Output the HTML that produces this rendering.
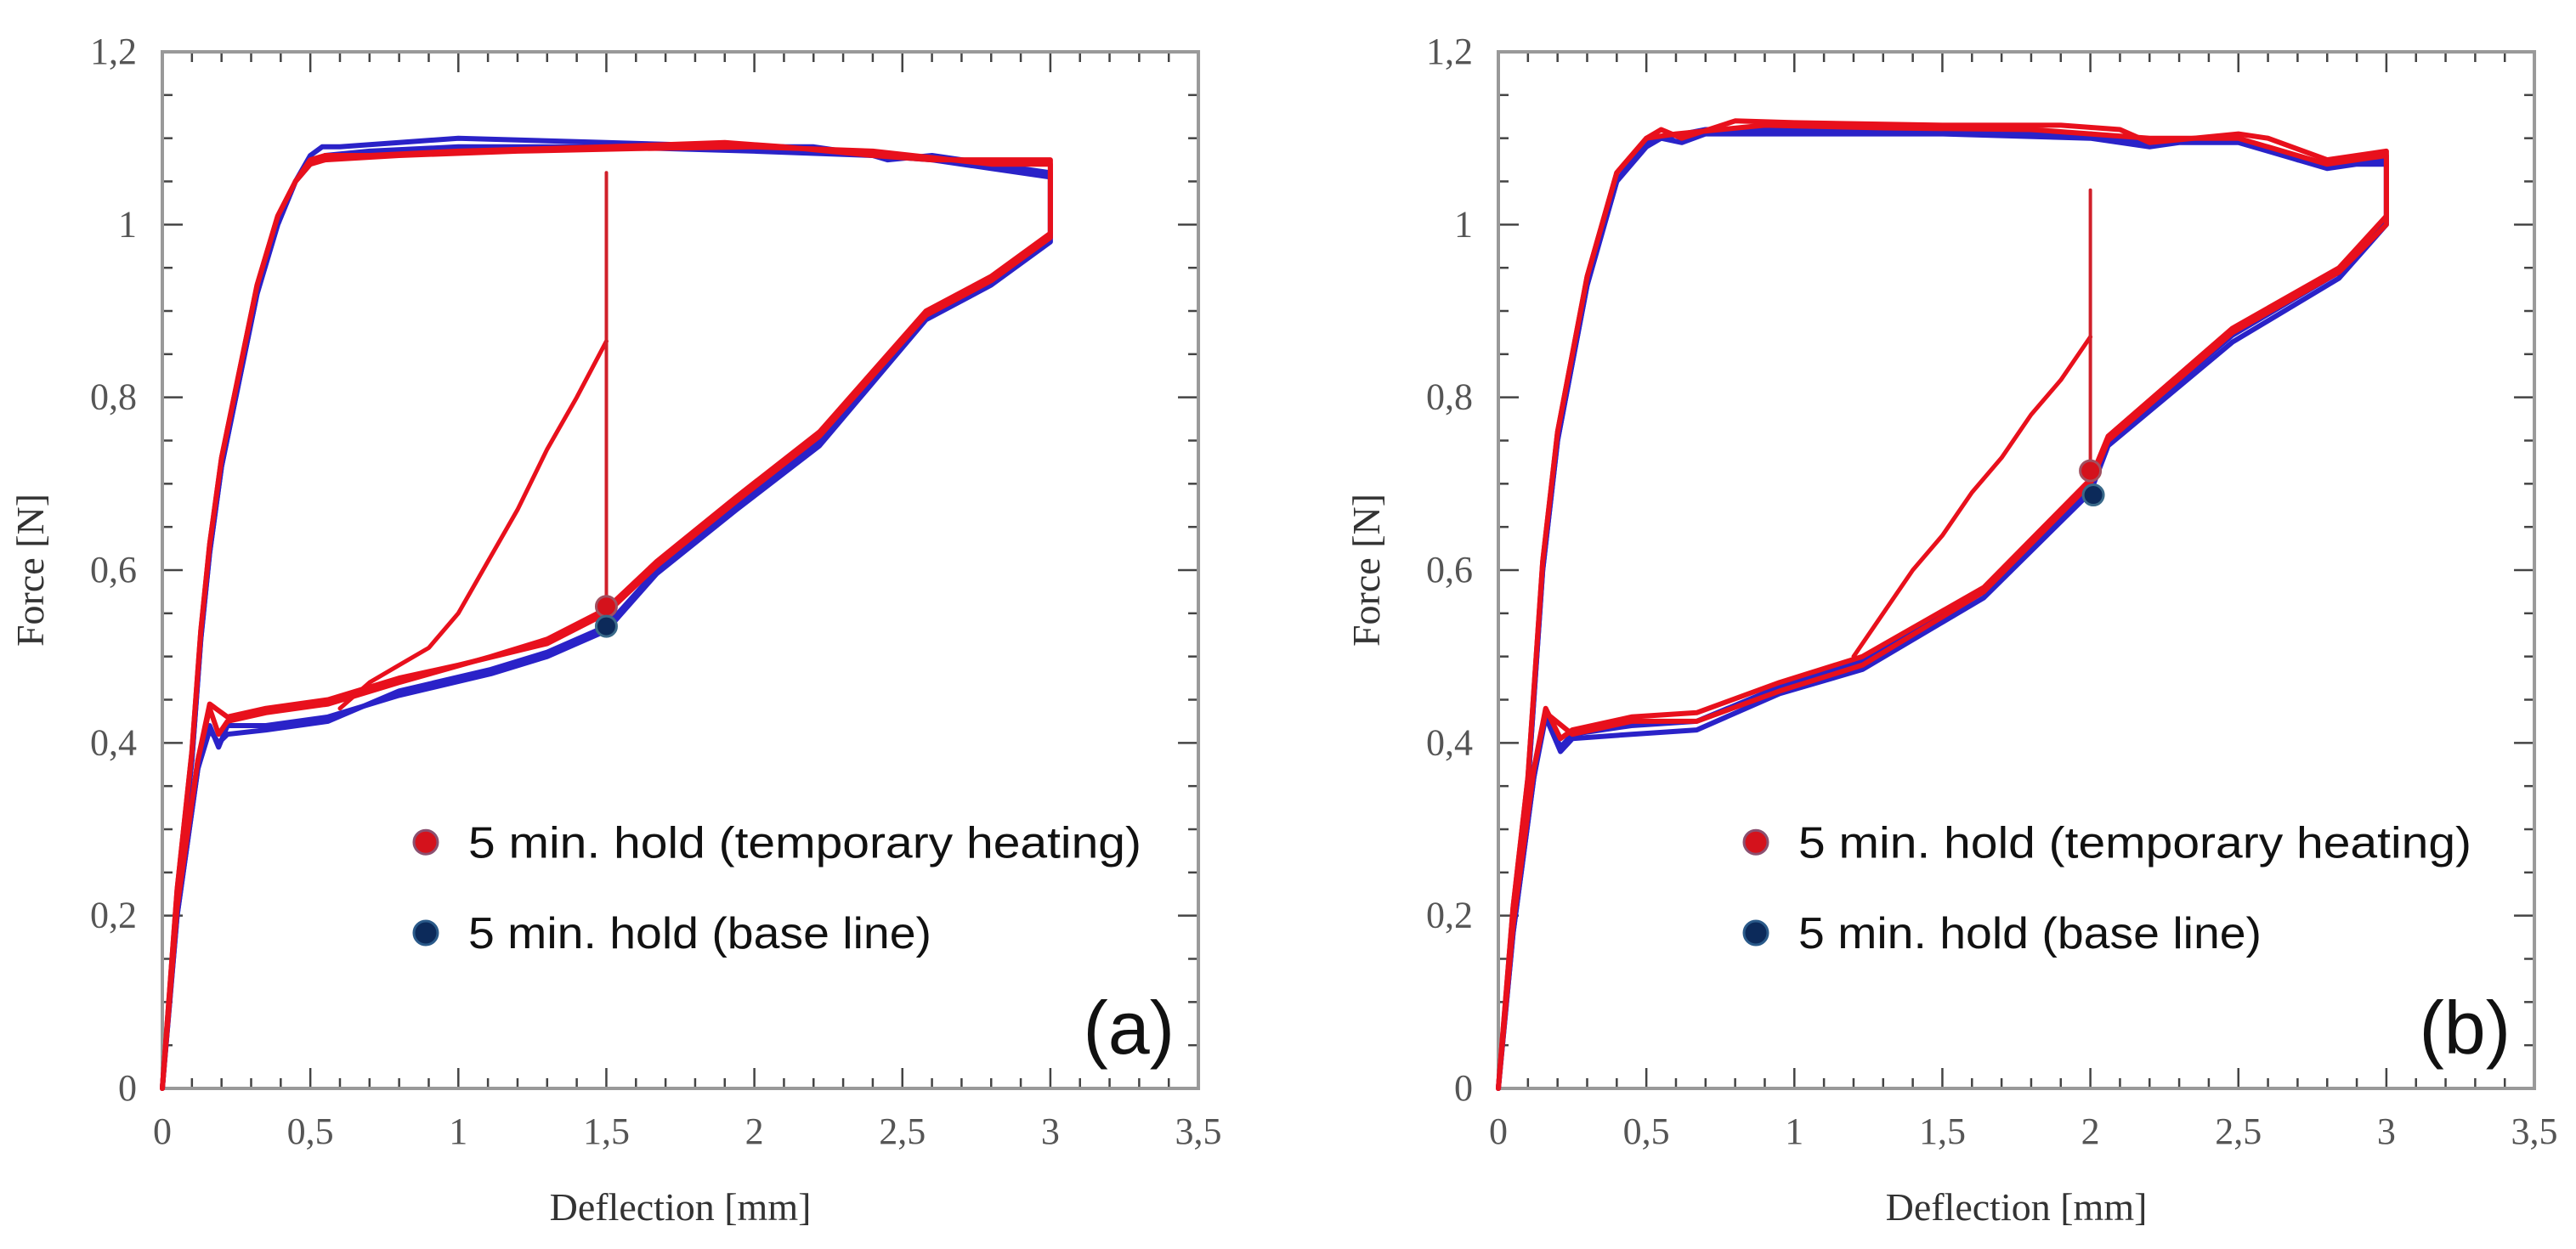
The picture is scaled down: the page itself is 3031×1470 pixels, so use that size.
<!DOCTYPE html>
<html><head><meta charset="utf-8"><style>
html,body{margin:0;padding:0;background:#fff;}
svg{display:block;}
</style></head><body>
<svg id="fig" width="3031" height="1470" viewBox="0 0 3031 1470" xmlns="http://www.w3.org/2000/svg"></svg>
<script>
// ---------- data (deflection mm, force N) ----------
const xTicks = [0,0.5,1,1.5,2,2.5,3,3.5];
const xTickLabels = ["0","0,5","1","1,5","2","2,5","3","3,5"];
const yTicks = [0,0.2,0.4,0.6,0.8,1,1.2];
const yTickLabels = ["0","0,2","0,4","0,6","0,8","1","1,2"];

// Panel (a)
const aBlueX1 = [0,0.05,0.1,0.13,0.16,0.2,0.26,0.32,0.39,0.45,0.5,0.54,0.6,0.8,1.0,1.5,2.0,2.2,2.4,2.45,2.6,2.8,3.0,3.0,2.8,2.58,2.22,1.94,1.67,1.5,1.3,1.11,0.8,0.56,0.35,0.22,0.19,0.16,0.12,0.05,0];
const aBlueY1 = [0,0.22,0.38,0.52,0.62,0.72,0.82,0.92,1.0,1.05,1.08,1.09,1.09,1.095,1.1,1.095,1.09,1.09,1.08,1.075,1.08,1.07,1.06,0.98,0.93,0.89,0.744,0.67,0.596,0.53,0.5,0.48,0.455,0.43,0.42,0.42,0.395,0.42,0.37,0.2,0];
const aBlueX2 = [0,0.05,0.1,0.13,0.16,0.2,0.26,0.32,0.39,0.45,0.5,0.55,0.7,1.0,1.5,2.0,2.4,2.6,2.8,3.0,3.0,2.8,2.58,2.22,1.94,1.67,1.5,1.3,1.11,0.8,0.56,0.35,0.22,0.19,0.16,0.12,0.05,0];
const aBlueY2 = [0,0.22,0.38,0.52,0.62,0.72,0.82,0.92,1.0,1.05,1.07,1.08,1.085,1.09,1.09,1.085,1.08,1.075,1.065,1.055,0.985,0.935,0.895,0.75,0.675,0.6,0.535,0.505,0.485,0.46,0.425,0.415,0.41,0.4,0.415,0.37,0.2,0];
const aRedX1 = [0,0.05,0.1,0.13,0.16,0.2,0.26,0.32,0.39,0.45,0.5,0.55,0.7,1.0,1.5,1.9,2.1,2.4,2.6,2.8,3.0,3.0,2.8,2.58,2.22,1.94,1.67,1.5,1.3,1.11,0.8,0.56,0.35,0.22,0.19,0.16,0.12,0.05,0];
const aRedY1 = [0,0.23,0.39,0.53,0.63,0.73,0.83,0.93,1.01,1.05,1.075,1.08,1.08,1.085,1.09,1.095,1.09,1.08,1.075,1.075,1.075,0.99,0.94,0.9,0.76,0.685,0.61,0.555,0.52,0.5,0.47,0.445,0.435,0.425,0.41,0.44,0.38,0.21,0];
const aRedX2 = [0,0.05,0.1,0.13,0.16,0.2,0.26,0.32,0.39,0.45,0.5,0.55,0.8,1.2,1.6,2.0,2.4,2.8,3.0,3.0,2.8,2.58,2.22,1.94,1.67,1.5,1.3,1.0,0.8,0.56,0.35,0.22,0.16,0.12,0.05,0];
const aRedY2 = [0,0.23,0.39,0.53,0.63,0.73,0.83,0.93,1.01,1.05,1.07,1.075,1.08,1.085,1.088,1.09,1.085,1.07,1.07,0.985,0.935,0.895,0.755,0.68,0.605,0.55,0.515,0.49,0.475,0.45,0.44,0.43,0.445,0.38,0.21,0];
const aHoldX = [1.5,1.5];
const aHoldY = [1.06,0.56];
const aReloadX = [0.6,0.7,0.8,0.9,1.0,1.1,1.2,1.3,1.4,1.5];
const aReloadY = [0.44,0.47,0.49,0.51,0.55,0.61,0.67,0.74,0.8,0.865];
const aMarkRed = [1.5,0.558];
const aMarkBlue = [1.5,0.535];

// Panel (b)
const bBlueX1 = [0,0.05,0.1,0.15,0.2,0.3,0.4,0.5,0.55,0.62,0.7,1.0,1.5,2.0,2.2,2.3,2.5,2.6,2.8,2.9,3.0,3.0,2.84,2.48,2.06,2.0,1.64,1.23,0.95,0.67,0.45,0.25,0.21,0.16,0.12,0.05,0];
const bBlueY1 = [0,0.2,0.35,0.6,0.75,0.93,1.05,1.095,1.1,1.095,1.105,1.105,1.105,1.1,1.09,1.095,1.095,1.085,1.065,1.07,1.07,1.0,0.938,0.864,0.744,0.69,0.568,0.485,0.457,0.415,0.41,0.405,0.39,0.43,0.36,0.18,0];
const bBlueX2 = [0,0.05,0.1,0.15,0.2,0.3,0.4,0.5,0.55,0.7,1.0,1.5,2.0,2.2,2.5,2.7,2.8,3.0,3.0,2.84,2.48,2.06,2.0,1.64,1.23,0.95,0.67,0.45,0.25,0.21,0.16,0.12,0.05,0];
const bBlueY2 = [0,0.2,0.35,0.6,0.75,0.93,1.05,1.09,1.1,1.11,1.11,1.108,1.105,1.095,1.1,1.075,1.07,1.075,1.005,0.945,0.872,0.75,0.695,0.575,0.495,0.465,0.425,0.42,0.41,0.395,0.435,0.36,0.18,0];
const bRedX1 = [0,0.05,0.1,0.15,0.2,0.3,0.4,0.5,0.55,0.62,0.8,1.0,1.5,1.9,2.1,2.2,2.5,2.6,2.8,2.9,3.0,3.0,2.84,2.48,2.06,2.0,1.64,1.23,0.95,0.67,0.45,0.25,0.21,0.16,0.12,0.05,0];
const bRedY1 = [0,0.21,0.36,0.61,0.76,0.94,1.06,1.1,1.11,1.1,1.12,1.118,1.115,1.115,1.11,1.095,1.105,1.1,1.075,1.08,1.085,1.01,0.95,0.88,0.755,0.705,0.58,0.5,0.47,0.435,0.43,0.415,0.405,0.44,0.37,0.19,0];
const bRedX2 = [0,0.05,0.1,0.15,0.2,0.3,0.4,0.5,0.6,0.9,1.3,1.8,2.2,2.5,2.8,3.0,3.0,2.84,2.48,2.06,2.0,1.64,1.23,0.95,0.67,0.45,0.25,0.16,0.12,0.05,0];
const bRedY2 = [0,0.21,0.36,0.61,0.76,0.94,1.06,1.1,1.105,1.115,1.112,1.11,1.1,1.1,1.07,1.08,1.0,0.945,0.875,0.75,0.7,0.575,0.49,0.46,0.425,0.425,0.41,0.435,0.37,0.19,0];
const bHoldX = [2.0,2.0];
const bHoldY = [1.04,0.715];
const bReloadX = [1.2,1.3,1.4,1.5,1.6,1.7,1.8,1.9,2.0];
const bReloadY = [0.5,0.55,0.6,0.64,0.69,0.73,0.78,0.82,0.87];
const bMarkRed = [2.0,0.715];
const bMarkBlue = [2.01,0.687];

// ---------- drawing ----------
const NS = "http://www.w3.org/2000/svg";
const svg = document.getElementById('fig');
function mk(tag, attrs, parent){
  const e = document.createElementNS(NS, tag);
  for (const k in attrs) e.setAttribute(k, attrs[k]);
  (parent||svg).appendChild(e);
  return e;
}
const RED = "#e8101c", BLUE = "#2a22c8";

function panel(id, x0, blues, reds, hold, reload, mRed, mBlue, legX, letter){
  const top = 61, bottom = 1281, xs = 348.3, ys = (bottom-top)/1.2;
  const X = v => x0 + v*xs;
  const Y = v => bottom - v*ys;
  const g = mk('g', {});
  
  
  const right = X(3.5);
  const ticks = mk('g', {stroke:'#444', 'stroke-width':2.5}, g);
  
  
  for (let i=1;i<35;i++){
    const xx = X(i/10), L = (i%5===0)?24:12;
    mk('line',{x1:xx,y1:bottom,x2:xx,y2:bottom-L},ticks);
    mk('line',{x1:xx,y1:top,x2:xx,y2:top+L},ticks);
  }
  for (let i=1;i<24;i++){
    const yy = Y(i*0.05), L = (i%4===0)?24:12;
    mk('line',{x1:x0,y1:yy,x2:x0+L,y2:yy},ticks);
    mk('line',{x1:right,y1:yy,x2:right-L,y2:yy},ticks);
  }
  const frame = mk('rect',{x:x0,y:top,width:right-x0,height:bottom-top,fill:'none',stroke:'#999','stroke-width':4},g);
  
  
  xTicks.forEach((v,i)=>{
    const t = mk('text',{x:X(v),y:1346,'text-anchor':'middle','font-family':'Liberation Serif, serif','font-size':44,fill:'#555'},g);
    t.textContent = xTickLabels[i];
    
    
  });
  yTicks.forEach((v,i)=>{
    const t = mk('text',{x:x0-30,y:Y(v)+14,'text-anchor':'end','font-family':'Liberation Serif, serif','font-size':44,fill:'#555'},g);
    t.textContent = yTickLabels[i];
    
    
  });
  const xt = mk('text',{x:X(1.75),y:1436,'text-anchor':'middle','font-family':'Liberation Serif, serif','font-size':46,fill:'#333'},g);
  xt.textContent = 'Deflection [mm]';
  
  
  const yt = mk('text',{x:0,y:0,'text-anchor':'middle','font-family':'Liberation Serif, serif','font-size':46,fill:'#333',transform:`translate(${x0-140},${Y(0.6)}) rotate(-90)`},g);
  yt.textContent = 'Force [N]';
  
  

  const line = (xsArr, ysArr, col, w, name) => {
    const d = xsArr.map((v,i)=>(i?'L':'M')+X(v).toFixed(1)+' '+Y(ysArr[i]).toFixed(1)).join(' ');
    const p = mk('path',{d:d,fill:'none',stroke:col,'stroke-width':w,'stroke-linejoin':'round','stroke-linecap':'round'},g);
    
    
  };
  blues.forEach(s=>line(s[0],s[1],BLUE,6,'baseline-curve-'+id));
  reds.forEach(s=>line(s[0],s[1],RED,6,'heating-curve-'+id));
  line(reload[0],reload[1],RED,5,'reload-curve-'+id);
  line(hold[0],hold[1],'#d0202a',4,'hold-line-'+id);
  const mr = mk('circle',{cx:X(mRed[0]),cy:Y(mRed[1]),r:12,fill:'#d4121c',stroke:'#a05060','stroke-width':3},g);
  
  
  const mb = mk('circle',{cx:X(mBlue[0]),cy:Y(mBlue[1]),r:12,fill:'#0c2a5a',stroke:'#3a6a8a','stroke-width':3},g);
  
  
  const lg = mk('g',{},g);
  
  
  const c1 = mk('circle',{cx:X(legX),cy:Y(0.285),r:14,fill:'#d4121c',stroke:'#8a5070','stroke-width':3},lg);
  
  
  const t1 = mk('text',{x:X(legX)+50,y:Y(0.285)+18,'font-family':'Liberation Sans, sans-serif','font-size':52,fill:'#111',textLength:792,lengthAdjust:'spacingAndGlyphs'},lg);
  t1.textContent = '5 min. hold (temporary heating)';
  
  
  const c2 = mk('circle',{cx:X(legX),cy:Y(0.18),r:14,fill:'#0c2a5a',stroke:'#2a5a8a','stroke-width':3},lg);
  
  
  const t2 = mk('text',{x:X(legX)+50,y:Y(0.18)+18,'font-family':'Liberation Sans, sans-serif','font-size':52,fill:'#111',textLength:545,lengthAdjust:'spacingAndGlyphs'},lg);
  t2.textContent = '5 min. hold (base line)';
  
  
  const pl = mk('text',{x:right-28,y:1240,'text-anchor':'end','font-family':'Liberation Sans, sans-serif','font-size':88,fill:'#111'},g);
  pl.textContent = letter;
  
  
}

panel('a', 191, [[aBlueX1,aBlueY1],[aBlueX2,aBlueY2]], [[aRedX1,aRedY1],[aRedX2,aRedY2]],
      [aHoldX,aHoldY], [aReloadX,aReloadY], aMarkRed, aMarkBlue, 0.89, '(a)');
panel('b', 1763, [[bBlueX1,bBlueY1],[bBlueX2,bBlueY2]], [[bRedX1,bRedY1],[bRedX2,bRedY2]],
      [bHoldX,bHoldY], [bReloadX,bReloadY], bMarkRed, bMarkBlue, 0.87, '(b)');
</script>
</body></html>
